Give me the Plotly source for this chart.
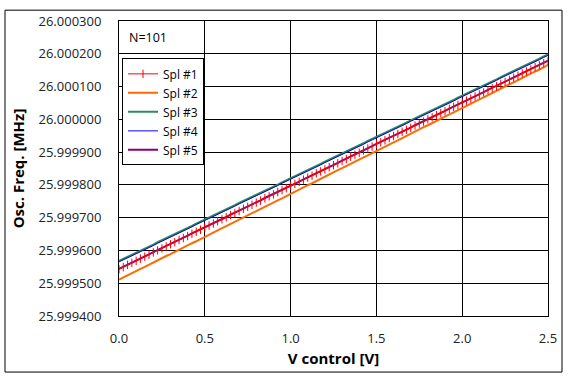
import plotly.graph_objects as go

# Control voltage (V), 101 points
v_control = [round(i * 0.025, 3) for i in range(101)]

# Frequency offsets from 26 MHz, in Hz
spl1_hz = [-457,-451,-444,-438,-432,-425,-419,-413,-406,-400,
           -394,-388,-381,-375,-368,-362,-356,-349,-343,-337,
           -330,-324,-318,-311,-305,-299,-292,-286,-280,-273,
           -267,-261,-254,-248,-241,-235,-229,-222,-216,-210,
           -203,-197,-191,-184,-178,-172,-165,-159,-153,-146,
           -140,-134,-127,-121,-114,-108,-102,-95,-89,-83,
           -76,-70,-64,-57,-51,-45,-38,-32,-26,-19,
           -13,-7,0,6,13,19,25,32,38,44,
           51,57,63,70,76,82,89,95,101,108,
           114,120,127,133,140,146,152,159,165,171,
           178]
spl2_hz = [-489,-482,-476,-469,-463,-456,-450,-443,-437,-430,
           -424,-417,-411,-404,-398,-391,-385,-378,-372,-365,
           -358,-352,-345,-339,-332,-326,-319,-312,-306,-299,
           -293,-286,-280,-273,-267,-260,-254,-247,-241,-234,
           -227,-221,-214,-208,-201,-195,-188,-181,-175,-168,
           -162,-155,-149,-142,-136,-129,-123,-116,-110,-103,
           -96,-90,-83,-77,-70,-64,-57,-50,-44,-37,
           -31,-24,-18,-11,-5,2,8,15,21,28,
           35,41,48,54,61,67,74,81,87,94,
           100,107,113,120,126,133,139,146,152,159,
           166]
spl3_hz = [-432,-426,-420,-413,-407,-401,-394,-388,-382,-375,
           -369,-363,-356,-350,-344,-337,-331,-325,-318,-312,
           -306,-299,-293,-287,-281,-274,-268,-262,-255,-249,
           -243,-237,-230,-224,-218,-211,-205,-199,-192,-186,
           -180,-173,-167,-161,-154,-148,-142,-136,-129,-123,
           -117,-111,-104,-98,-92,-85,-79,-73,-66,-60,
           -54,-47,-41,-35,-28,-22,-16,-10,-3,3,
           9,15,22,28,34,41,47,53,59,66,
           72,78,85,91,97,104,110,116,122,129,
           135,141,148,154,160,167,173,179,185,192,
           198]
spl4_hz = [-435,-429,-423,-416,-410,-404,-397,-391,-385,-378,
           -372,-366,-359,-353,-347,-340,-334,-328,-321,-315,
           -309,-302,-296,-290,-284,-277,-271,-265,-258,-252,
           -246,-240,-233,-227,-221,-214,-208,-202,-195,-189,
           -183,-176,-170,-164,-157,-151,-145,-139,-132,-126,
           -120,-114,-107,-101,-95,-88,-82,-76,-69,-63,
           -57,-50,-44,-38,-31,-25,-19,-13,-6,0,
           6,12,19,25,31,38,44,50,56,63,
           69,75,82,88,94,101,107,113,119,126,
           132,138,145,151,157,164,170,176,182,189,
           195]
spl5_hz = [-456,-450,-443,-437,-431,-424,-418,-412,-405,-399,
           -393,-387,-380,-374,-367,-361,-355,-348,-342,-336,
           -329,-323,-317,-310,-304,-298,-291,-285,-279,-272,
           -266,-260,-253,-247,-240,-234,-228,-221,-215,-209,
           -202,-196,-190,-183,-177,-171,-164,-158,-152,-145,
           -139,-133,-126,-120,-113,-107,-101,-94,-88,-82,
           -75,-69,-63,-56,-50,-44,-37,-31,-25,-18,
           -12,-6,1,7,14,20,26,33,39,45,
           52,58,64,71,77,83,90,96,102,109,
           115,121,128,134,141,147,153,160,166,172,
           179]

F0_MHZ = 26.0

def to_mhz(hz):
    return [F0_MHZ + h * 1e-6 for h in hz]

FONT = "Open Sans"

fig = go.Figure()
# draw order: orange, green, blue, purple, red (red on top)
fig.add_trace(go.Scatter(x=v_control, y=to_mhz(spl2_hz), name="Spl #2", mode="lines",
                         line=dict(color="#FF6A00", width=2), legendrank=2))
fig.add_trace(go.Scatter(x=v_control, y=to_mhz(spl3_hz), name="Spl #3", mode="lines",
                         line=dict(color="#2E8B57", width=2), legendrank=3))
fig.add_trace(go.Scatter(x=v_control, y=to_mhz(spl4_hz), name="Spl #4", mode="lines",
                         line=dict(color="#0000FF", width=1), legendrank=4))
fig.add_trace(go.Scatter(x=v_control, y=to_mhz(spl5_hz), name="Spl #5", mode="lines",
                         line=dict(color="#800080", width=2), legendrank=5))
fig.add_trace(go.Scatter(x=v_control, y=to_mhz(spl1_hz), name="Spl #1", mode="lines+markers",
                         line=dict(color="#FF0000", width=1),
                         marker=dict(symbol="line-ns", size=6, line=dict(color="#FF0000", width=1)),
                         legendrank=1))

fig.update_layout(
    width=571, height=382,
    margin=dict(l=119, r=23, t=16, b=66),
    paper_bgcolor="white", plot_bgcolor="white",
    font=dict(family=FONT, size=12, color="#000000"),
    showlegend=True,
    legend=dict(x=3/429, y=(316-54)/300, xanchor="left", yanchor="top",
                bgcolor="white", bordercolor="black", borderwidth=1,
                font=dict(family=FONT, size=12), tracegroupgap=0,
                itemwidth=30),
    annotations=[dict(text="N=101", x=8/429, y=(316-33)/300, xref="paper", yref="paper",
                      xanchor="left", yanchor="middle", showarrow=False,
                      font=dict(family=FONT, size=12.5))],
    shapes=[dict(type="rect", xref="paper", yref="paper",
                 x0=(5-119)/429, x1=(562-119)/429, y0=(316-373)/300, y1=(316-5)/300,
                 line=dict(color="black", width=1), fillcolor="rgba(0,0,0,0)", layer="below")],
)
fig.update_xaxes(range=[0, 2.5], tick0=0, dtick=0.5, tickformat=".1f",
                 showgrid=True, gridcolor="black", gridwidth=1,
                 showline=True, linecolor="black", linewidth=1, mirror=True,
                 zeroline=False, ticks="", ticklabelstandoff=10,
                 title=dict(text="<b>V control [V]</b>", font=dict(family=FONT, size=15), standoff=7),
                 tickfont=dict(family=FONT, size=13, color="#222222"))
fig.update_yaxes(range=[25.9994, 26.0003], tick0=25.9994, dtick=0.0001, tickformat=".6f",
                 showgrid=True, gridcolor="black", gridwidth=1,
                 showline=True, linecolor="black", linewidth=1, mirror=True,
                 zeroline=False, ticks="", ticklabelstandoff=14,
                 title=dict(text="<b>Osc. Freq. [MHz]</b>", font=dict(family=FONT, size=15), standoff=10),
                 tickfont=dict(family=FONT, size=13, color="#222222"))

fig.write_html("out.html", config={"displayModeBar": False},
               post_script="document.body.style.margin='0';")
